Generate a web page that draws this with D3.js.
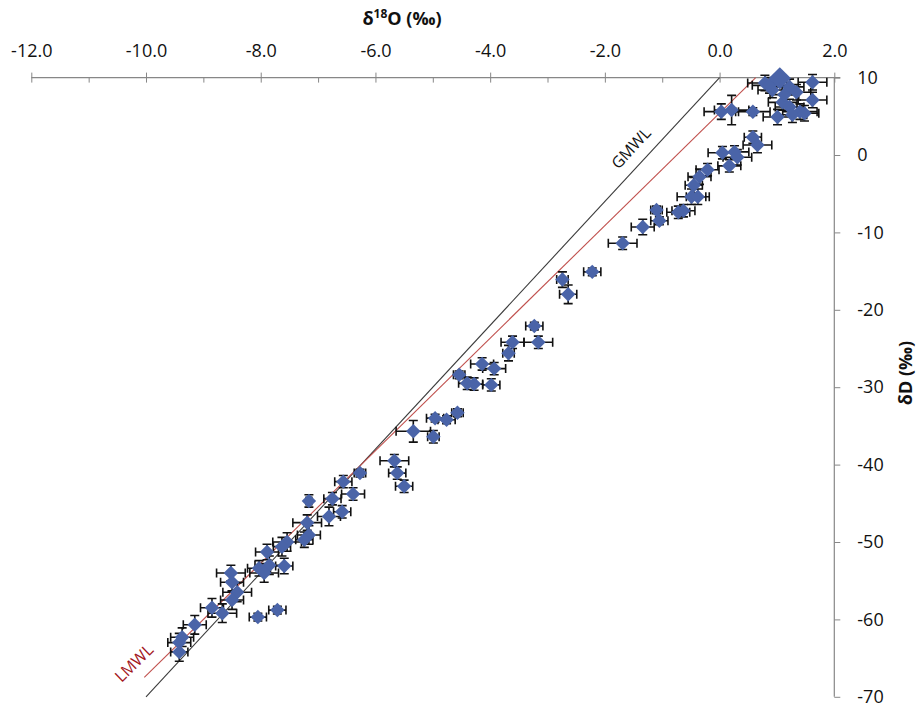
<!DOCTYPE html>
<html><head><meta charset="utf-8">
<script src="https://cdn.jsdelivr.net/npm/d3@7"></script>
<style>
html,body{margin:0;padding:0;background:#fff;}
svg{display:block;font-family:"Open Sans",sans-serif;}
</style></head>
<body><svg id="c" width="916" height="708"></svg>
<script>
// ---- data ----
const d18O = [
  0.79, 0.92, 1.22, 1.34, 1.62, 1.62, 1.10, 1.22, 1.40, 1.01, 1.27, 1.48, 0.03, 0.21, 0.58, 0.87, 1.13,
  0.58, 0.66, 0.05, 0.26, 0.31, 0.17, -0.21, -0.35, -0.45, -0.49, -0.38, -0.72, -0.63, -1.10, -1.05, -1.34, -1.69, -2.22, -2.74, -2.64,
  -3.23, -3.16, -3.61, -3.68, -4.14, -3.93, -4.54, -4.40, -4.28, -3.98, -4.57, -4.76, -4.96, -5.34, -4.99,
  -5.67, -5.62, -5.50, -6.27, -6.56, -6.39, -6.75, -7.16, -6.58, -6.81,
  -7.19, -7.16, -7.24, -7.54, -7.63, -7.89, -7.85, -8.03, -7.94, -7.59, -8.52, -8.50, -8.41, -8.50, -8.85, -8.67, -8.05, -7.71, -9.15, -9.37, -9.42, -9.42
];
const dD = [
  9.3, 8.4, 8.8, 8.1, 9.4, 7.1, 6.8, 6.2, 5.6, 4.9, 5.2, 5.4, 5.6, 5.8, 5.6, 9.0, 7.8,
  2.3, 1.3, 0.3, 0.4, -0.3, -1.4, -1.9, -2.8, -3.9, -5.4, -5.4, -7.4, -7.2, -7.1, -8.5, -9.3, -11.4, -15.1, -16.1, -18.0,
  -22.1, -24.2, -24.2, -25.6, -27.0, -27.6, -28.4, -29.5, -29.6, -29.7, -33.3, -34.2, -34.0, -35.7, -36.4,
  -39.5, -41.1, -42.8, -41.1, -42.2, -43.8, -44.4, -44.7, -46.1, -46.7,
  -47.5, -49.1, -49.7, -50.0, -50.6, -51.3, -53.0, -53.4, -54.0, -53.1, -54.0, -55.2, -56.5, -57.5, -58.5, -59.2, -59.7, -58.8, -60.7, -62.3, -63.0, -64.2
];
const xErr = [
  0.30, 0.25, 0.25, 0.25, 0.25, 0.25, 0.25, 0.25, 0.30, 0.25, 0.25, 0.25, 0.30, 0.30, 0.30, 0.30, 0.25,
  0.15, 0.25, 0.25, 0.25, 0.25, 0.20, 0.20, 0.20, 0.15, 0.25, 0.20, 0.20, 0.20, 0.10, 0.15, 0.20, 0.25, 0.15, 0.10, 0.15,
  0.15, 0.25, 0.20, 0.10, 0.20, 0.20, 0.10, 0.15, 0.15, 0.15, 0.10, 0.15, 0.15, 0.30, 0.10,
  0.25, 0.15, 0.15, 0.10, 0.15, 0.20, 0.15, 0.05, 0.15, 0.20,
  0.25, 0.20, 0.15, 0.25, 0.15, 0.20, 0.25, 0.20, 0.25, 0.15, 0.25, 0.20, 0.25, 0.20, 0.20, 0.25, 0.15, 0.15, 0.20, 0.20, 0.20, 0.15
];
const yErr = [
  1.0, 1.0, 1.0, 1.0, 1.0, 1.0, 1.0, 1.0, 1.0, 1.0, 1.0, 1.0, 1.0, 1.9, 0.5, 1.0, 1.0,
  0.8, 1.0, 0.8, 0.8, 1.0, 0.8, 0.8, 1.0, 1.0, 1.0, 1.0, 0.8, 0.8, 0.5, 0.5, 1.0, 0.8, 0.5, 1.0, 1.2,
  0.5, 0.8, 0.8, 1.0, 0.8, 0.8, 0.5, 0.8, 0.8, 0.8, 0.5, 0.5, 0.5, 1.4, 0.8,
  0.8, 0.8, 0.8, 0.5, 0.8, 0.8, 0.8, 0.8, 0.8, 1.2,
  1.0, 1.2, 1.0, 1.2, 1.2, 1.0, 1.2, 1.0, 1.2, 1.0, 1.0, 1.2, 1.2, 1.2, 1.2, 1.2, 0.5, 0.5, 1.2, 1.2, 1.2, 1.2
];
// larger marker (overlapping group mean)
const bigX = [1.05];
const bigY = [9.9];

const gmwlPts = [[-10, -70], [0, 10]];
const lmwlPts = [[-10.03, -67.5], [0.63, 10]];

const xTicks = [-12, -10, -8, -6, -4, -2, 0, 2];
const xMinorTicks = [-11, -9, -7, -5, -3, -1, 1];
const yTicks = [10, 0, -10, -20, -30, -40, -50, -60, -70];

// ---- drawing ----
const svg = d3.select("#c");
const x = d3.scaleLinear().domain([-12, 2]).range([31.3, 834.3]);
const y = d3.scaleLinear().domain([10, -70]).range([77.6, 696.8]);
const axisColor = "#878787";
const fnt = "'Open Sans', sans-serif";

// x axis (top)
const gx = svg.append("g").attr("transform", `translate(0,${y(10)})`)
  .call(d3.axisTop(x).tickValues(xTicks).tickFormat(d => d.toFixed(1)).tickSizeInner(5).tickSizeOuter(0).tickPadding(16));
gx.select(".domain").remove();
gx.selectAll(".tick line").attr("y1", 5).attr("y2", -5).attr("stroke", axisColor);
gx.selectAll(".tick text").attr("font-size", 18).attr("font-family", fnt).attr("fill", "#111");
const gxm = svg.append("g").attr("transform", `translate(0,${y(10)})`)
  .call(d3.axisBottom(x).tickValues(xMinorTicks).tickFormat("").tickSizeInner(5).tickSizeOuter(0));
gxm.select(".domain").remove();
gxm.selectAll(".tick line").attr("stroke", axisColor);
svg.append("line").attr("x1", x(-12)).attr("x2", x(2) + 6).attr("y1", y(10)).attr("y2", y(10))
  .attr("stroke", axisColor).attr("stroke-width", 1.2);

// y axis (right, at x = 2)
const gy = svg.append("g").attr("transform", `translate(${x(2)},0)`)
  .call(d3.axisRight(y).tickValues(yTicks).tickFormat(d => String(d)).tickSizeInner(6).tickSizeOuter(0).tickPadding(17));
gy.select(".domain").remove();
gy.selectAll(".tick line").attr("stroke", axisColor);
gy.selectAll(".tick text").attr("font-size", 18).attr("font-family", fnt).attr("fill", "#111");
svg.append("line").attr("x1", x(2)).attr("x2", x(2)).attr("y1", y(10)).attr("y2", y(-70))
  .attr("stroke", axisColor).attr("stroke-width", 1.2);

// axis titles
const tx = svg.append("text").attr("x", 402).attr("y", 25).attr("text-anchor", "middle")
  .attr("font-size", 18).attr("font-weight", "bold").attr("font-family", fnt).attr("fill", "#111");
tx.append("tspan").text("δ");
tx.append("tspan").attr("font-size", 12).attr("dy", -7).text("18");
tx.append("tspan").attr("dy", 7).text("O (‰)");
svg.append("text").attr("transform", "translate(912,373) rotate(-90)").attr("text-anchor", "middle")
  .attr("font-size", 18).attr("font-weight", "bold").attr("font-family", fnt).attr("fill", "#111")
  .text("δD (‰)");

// water lines
const line = d3.line().x(d => x(d[0])).y(d => y(d[1]));
svg.append("path").datum(gmwlPts).attr("d", line).attr("fill", "none").attr("stroke", "#3a3a3a").attr("stroke-width", 1.1);
svg.append("path").datum(lmwlPts).attr("d", line).attr("fill", "none").attr("stroke", "#c0504d").attr("stroke-width", 1.1);

const angG = Math.atan2(y(gmwlPts[1][1]) - y(gmwlPts[0][1]), x(gmwlPts[1][0]) - x(gmwlPts[0][0])) * 180 / Math.PI;
const angL = Math.atan2(y(lmwlPts[1][1]) - y(lmwlPts[0][1]), x(lmwlPts[1][0]) - x(lmwlPts[0][0])) * 180 / Math.PI;
svg.append("text").attr("transform", `translate(632,149) rotate(${angG})`).attr("text-anchor", "middle")
  .attr("dominant-baseline", "middle").attr("font-size", 16).attr("font-family", fnt).attr("fill", "#111").text("GMWL");
svg.append("text").attr("transform", `translate(135,664) rotate(${angL})`).attr("text-anchor", "middle")
  .attr("dominant-baseline", "middle").attr("font-size", 16).attr("font-family", fnt).attr("fill", "#a3161c").text("LMWL");

// points
const pts = d18O.map((v, i) => ({ x: v, y: dD[i], xe: xErr[i], ye: yErr[i] }));
const eb = svg.append("g").attr("stroke", "#111").attr("stroke-width", 1.6).attr("fill", "none");
const cap = 4.5;
pts.forEach(p => {
  const cx = x(p.x), cy = y(p.y), x0 = x(p.x - p.xe), x1 = x(p.x + p.xe), y0 = y(p.y + p.ye), y1 = y(p.y - p.ye);
  eb.append("path").attr("d",
    `M${x0},${cy}H${x1}M${x0},${cy - cap}V${cy + cap}M${x1},${cy - cap}V${cy + cap}` +
    `M${cx},${y0}V${y1}M${cx - cap},${y0}H${cx + cap}M${cx - cap},${y1}H${cx + cap}`);
});
const mk = svg.append("g");
const diamond = d3.symbol().type(d3.symbolSquare).size(105);
mk.selectAll("path.pt").data(pts).join("path").attr("class", "pt")
  .attr("d", diamond).attr("transform", d => `translate(${x(d.x)},${y(d.y)}) rotate(45)`)
  .attr("fill", "#4a64a8");
const bigDiamond = d3.symbol().type(d3.symbolSquare).size(250);
mk.selectAll("path.big").data(bigX.map((v, i) => ({ x: v, y: bigY[i] }))).join("path").attr("class", "big")
  .attr("d", bigDiamond).attr("transform", d => `translate(${x(d.x)},${y(d.y)}) rotate(45)`)
  .attr("fill", "#4a64a8");
</script></body></html>
